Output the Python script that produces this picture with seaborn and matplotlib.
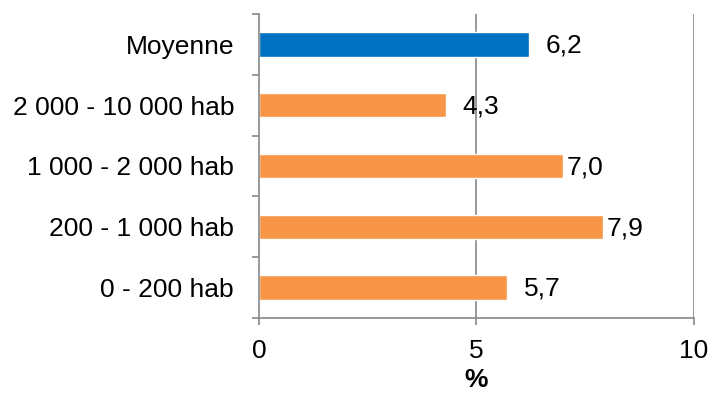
import matplotlib
matplotlib.use("Agg")
import matplotlib.pyplot as plt
import seaborn as sns
import numpy as np

categories = ["Moyenne", "2 000 - 10 000 hab", "1 000 - 2 000 hab", "200 - 1 000 hab", "0 - 200 hab"]
values = [6.2, 4.3, 7.0, 7.9, 5.7]
value_labels = ["6,2", "4,3", "7,0", "7,9", "5,7"]
bar_colors = ["#0070C0", "#F79646", "#F79646", "#F79646", "#F79646"]
x_ticks = [0, 5, 10]

sns.set_style("white")
plt.rcParams["font.family"] = ["Liberation Sans", "DejaVu Sans"]
plt.rcParams["text.color"] = "black"
plt.rcParams["xtick.color"] = "black"
plt.rcParams["ytick.color"] = "black"
plt.rcParams["axes.labelcolor"] = "black"

FS = 19

fig = plt.figure(figsize=(7.11, 3.93), dpi=100)
ax = fig.add_axes([0.3643, 0.191, 0.6117, 0.7734])

sns.barplot(x=values, y=categories, hue=categories, palette=bar_colors,
            legend=False, width=0.4, orient="h", saturation=1, ax=ax)

grid_col = "#878787"
ax.set_xlim(0, 10)
ax.set_ylim(4.5, -0.5)
ax.set_xticks(x_ticks)
ax.set_xticklabels([str(t) for t in x_ticks], fontsize=FS)
for t in x_ticks[1:]:
    ax.axvline(t, color=grid_col, lw=1.2, zorder=0)

for s in ["top", "right"]:
    ax.spines[s].set_visible(False)
for s in ["left", "bottom"]:
    ax.spines[s].set_color(grid_col)
    ax.spines[s].set_linewidth(1.2)

ax.tick_params(axis="y", which="major", left=True, length=0, pad=18, labelsize=FS)
ax.set_yticks(np.arange(-0.5, len(categories), 1.0), minor=True)
ax.tick_params(axis="y", which="minor", left=True, length=5, width=1.2, color=grid_col, direction="out")
ax.tick_params(axis="x", which="major", bottom=True, length=5, width=1.2, color=grid_col,
               labelcolor="black", direction="out", pad=10)

ax.set_xlabel("%", fontsize=FS, fontweight="bold", labelpad=4)
ax.set_ylabel("")

offsets = [12, 12, 2, 3, 12]
for i, (v, lab) in enumerate(zip(values, value_labels)):
    ax.annotate(lab, xy=(v, i), xytext=(offsets[i], -1), textcoords="offset points",
                va="center", ha="left", fontsize=FS)

fig.savefig("out.png", dpi=100)
